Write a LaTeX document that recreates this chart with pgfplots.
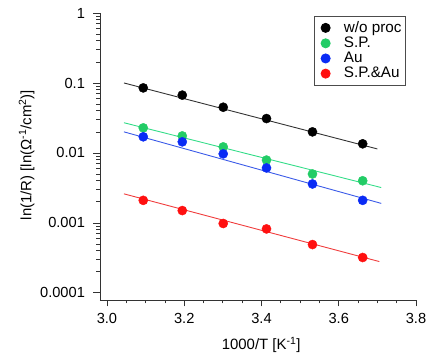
\documentclass[border=0pt]{standalone}
\usepackage{fontspec}
\setmainfont{Liberation Sans}
\usepackage{pgfplots}
\pgfplotsset{compat=1.18}
\definecolor{cgreen}{HTML}{22CC66}
\definecolor{cblue}{HTML}{0A2BF5}
\definecolor{cred}{HTML}{FF1010}
\definecolor{lgreen}{HTML}{33DD88}
\definecolor{lblue}{HTML}{3A5AE8}
\definecolor{lred}{HTML}{F03C3C}
\definecolor{lblack}{HTML}{333333}
\begin{document}
\fontsize{14.7}{16}\selectfont
\begin{tikzpicture}
\useasboundingbox (-100bp,-55bp) rectangle (328bp,300bp);
\begin{axis}[
  at={(0,0)}, anchor=south west,
  scale only axis, width=316bp, height=287bp,
  ymode=log,
  xmin=2.982, xmax=3.8, ymin=7.9e-5, ymax=1,
  axis lines*=left,
  tick align=outside,
  major tick length=6.5bp, minor tick length=3.5bp,
  xtick={3.0,3.2,3.4,3.6,3.8},
  xticklabels={3.0,3.2,3.4,3.6,3.8},
  minor x tick num=3,
  ytick={0.0001,0.001,0.01,0.1,1},
  yticklabels={0.0001,0.001,0.01,0.1,1},
  /pgf/number format/assume math mode=true,
  ticklabel style={font=\fontsize{14.7}{16}\selectfont},
  yticklabel style={xshift=-3.5bp},
  xticklabel style={yshift=-1.5bp},
  axis line style={line width=0.8pt, black!80},
  every tick/.style={line width=0.7pt, black!80},
  xlabel={1000/T [K\textsuperscript{-1}]},
  ylabel={ln(1/R) [ln(Ω\textsuperscript{-1}/cm\textsuperscript{2})]},
  xlabel style={at={(axis description cs:0.51,-0.157)}, anchor=center, font=\fontsize{15}{16}\selectfont},
  ylabel style={at={(axis description cs:-0.232,0.505)}, anchor=center, rotate=0, font=\fontsize{15}{16}\selectfont},
  legend style={at={(axis description cs:0.968,0.99)}, anchor=north east,
    draw=black!70, line width=0.8pt, font=\fontsize{15.3}{16}\selectfont,
    row sep=-1.6pt, inner xsep=2pt, inner ysep=3pt},
  legend image code/.code={\draw plot coordinates {(0.3cm,0cm)}; \path (0cm,0cm) (0.86cm,0cm);},
  legend cell align=left,
]
% fit lines
\addplot[lblack, line width=0.9pt, forget plot] coordinates {(3.044,0.1) (3.70,0.0114)};
\addplot[lgreen, line width=0.9pt, forget plot] coordinates {(3.044,0.027) (3.71,0.0032)};
\addplot[lblue, line width=0.9pt, forget plot] coordinates {(3.044,0.020) (3.71,0.0019)};
\addplot[lred, line width=0.9pt, forget plot] coordinates {(3.044,0.0026) (3.705,0.00028)};
% data
\addplot[only marks, mark=*, mark size=4.6pt, black, mark options={draw=black, fill=black}] coordinates {
(3.094,0.085) (3.195,0.067) (3.301,0.045) (3.413,0.031) (3.532,0.020) (3.662,0.0135)};
\addlegendentry{w/o proc}
\addplot[only marks, mark=*, mark size=4.6pt, cgreen, mark options={draw=cgreen, fill=cgreen}] coordinates {
(3.094,0.0228) (3.195,0.0175) (3.301,0.0122) (3.413,0.0079) (3.532,0.0050) (3.662,0.0040)};
\addlegendentry{S.P.}
\addplot[only marks, mark=*, mark size=4.6pt, cblue, mark options={draw=cblue, fill=cblue}] coordinates {
(3.094,0.0170) (3.195,0.0144) (3.301,0.0097) (3.413,0.0061) (3.532,0.0036) (3.662,0.0021)};
\addlegendentry{Au}
\addplot[only marks, mark=*, mark size=4.6pt, cred, mark options={draw=cred, fill=cred}] coordinates {
(3.094,0.0021) (3.195,0.0015) (3.301,0.00098) (3.413,0.00082) (3.532,0.00049) (3.662,0.00032)};
\addlegendentry{S.P.\&Au}
\end{axis}
\end{tikzpicture}
\end{document}
